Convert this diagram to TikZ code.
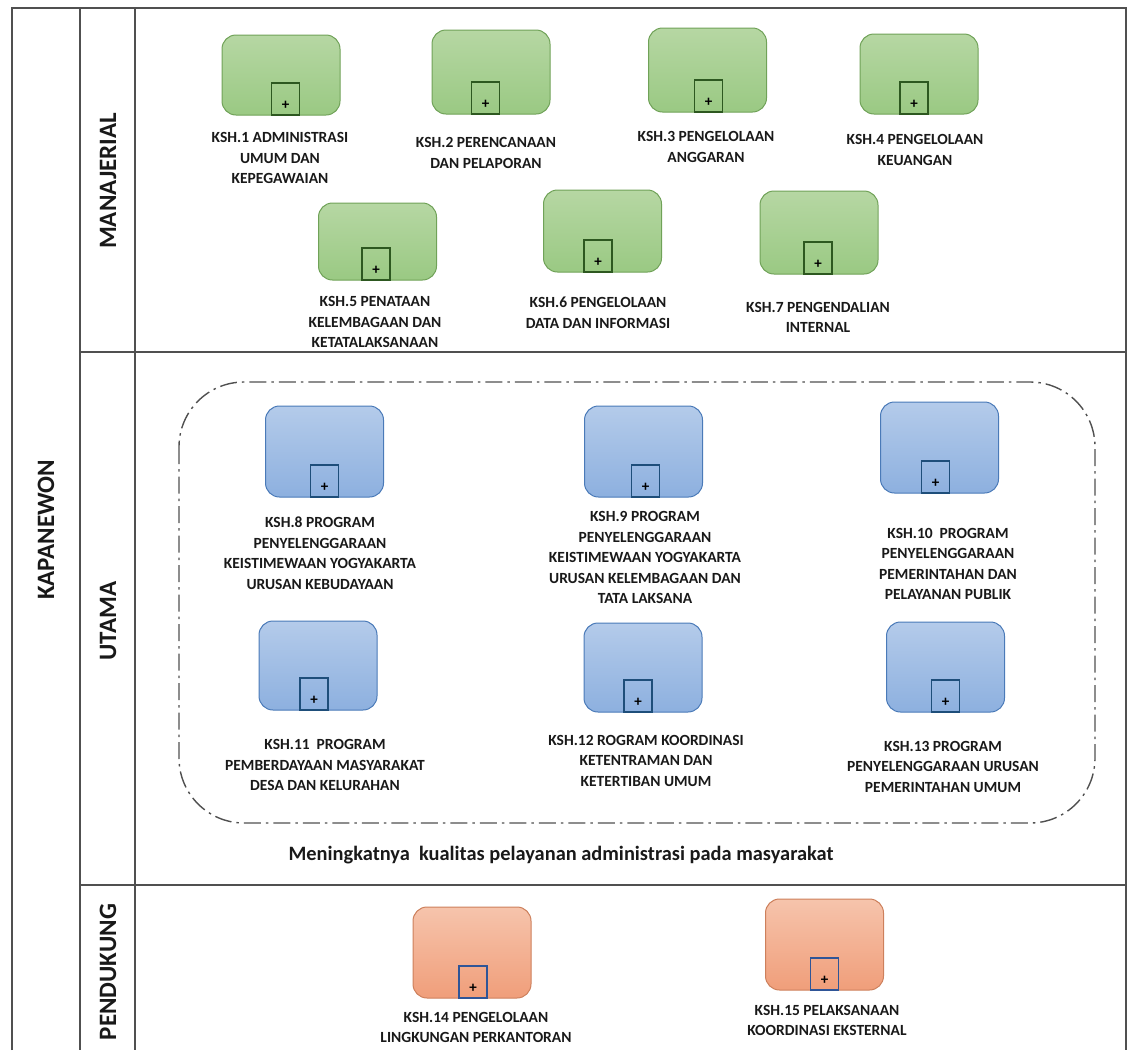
\documentclass[tikz,border=0pt]{standalone}
\usepackage{fontspec}
\setmainfont{Carlito}
\definecolor{garis}{RGB}{80,80,80}
\definecolor{hijauA}{RGB}{182,215,163}
\definecolor{hijauB}{RGB}{154,201,131}
\definecolor{hijauC}{RGB}{112,162,88}
\definecolor{hijauD}{RGB}{45,88,32}
\definecolor{biruA}{RGB}{180,203,234}
\definecolor{biruB}{RGB}{141,176,223}
\definecolor{biruC}{RGB}{74,122,184}
\definecolor{biruD}{RGB}{30,78,122}
\definecolor{oranyeA}{RGB}{246,196,172}
\definecolor{oranyeB}{RGB}{240,158,122}
\definecolor{oranyeC}{RGB}{205,128,92}
\definecolor{oranyeD}{RGB}{47,85,151}
\definecolor{teks}{RGB}{25,25,25}
\begin{document}
\begin{tikzpicture}[x=1pt,y=-1pt,
	lajur/.style={draw=garis,line width=1.4pt},
	kotak/.style={rounded corners=14pt,minimum width=118pt,inner sep=0pt,line width=1pt},
	hijau/.style={kotak,draw=hijauC,top color=hijauA,bottom color=hijauB},
	biru/.style={kotak,draw=biruC,top color=biruA,bottom color=biruB},
	oranye/.style={kotak,draw=oranyeC,top color=oranyeA,bottom color=oranyeB},
	kecil/.style={draw,line width=1.7pt,fill=none,minimum width=28pt,minimum height=32pt,inner sep=0pt,anchor=south},
	tambah/.style={inner sep=0pt,text=black,font=\bfseries\fontsize{15}{15}\selectfont},
	ket/.style={align=center,text=teks,font=\bfseries\fontsize{15.5}{20.5}\selectfont},
	judul/.style={rotate=90,text=teks,font=\bfseries\fontsize{25}{25}\selectfont}]
	\useasboundingbox (0,0) rectangle (1130,1050);
	% frame and lanes
	\path (12,8) coordinate (TL)
	(1126,8) coordinate (TR)
	(12,1050) coordinate (BL)
	(80,1050) coordinate (B1)
	(135,1050) coordinate (B2)
	(1126,1050) coordinate (BR)
	(80,352) coordinate (M1)
	(1126,352) coordinate (M2)
	(80,885) coordinate (U1)
	(1126,885) coordinate (U2);
	\draw[lajur] (BL)--(TL)--(TR)--(BR);
	\draw[lajur] (TL-|B1)--(B1);
	\draw[lajur] (TL-|B2)--(B2);
	\draw[lajur] (M1)--(M2);
	\draw[lajur] (U1)--(U2);
	\node[judul] (kapanewon) at (46,530) {KAPANEWON};
	\node[judul] (manajerial) at (108,181) {MANAJERIAL};
	\node[judul] (utama) at (108,621) {UTAMA};
	\node[judul] (pendukung) at (108,972) {PENDUKUNG};
	% dash-dot group
	\draw[garis,line width=1.4pt,rounded corners=65pt,dash pattern=on 17pt off 5pt on 2.5pt off 5pt]
	(179,382) rectangle (1095,823);
	\node[text=teks,font=\bfseries\fontsize{20.4}{20.4}\selectfont] (hasil) at (561,855)
	{Meningkatnya\ \ kualitas pelayanan administrasi pada masyarakat};
	% boxes: name/x/y/height/square shift/style/label x/label y/label
	\foreach \n/\x/\y/\h/\d/\c/\tx/\ty/\t in {
	1/281/75/80/4.5/hijau/280/158/{KSH.1 ADMINISTRASI\\UMUM DAN\\KEPEGAWAIAN},
	2/491/72/84/-5.5/hijau/486/153/{KSH.2 PERENCANAAN\\DAN PELAPORAN},
	3/707.5/70/84/1/hijau/706/147/{KSH.3 PENGELOLAAN\\ANGGARAN},
	4/919/74/80/-5/hijau/915/150/{KSH.4 PENGELOLAAN\\KEUANGAN},
	5/377.5/241.5/77/-1.5/hijau/375/322/{KSH.5 PENATAAN\\KELEMBAGAAN DAN\\KETATALAKSANAAN},
	6/602.5/231/82/-4.5/hijau/598/313/{KSH.6 PENGELOLAAN\\DATA DAN INFORMASI},
	7/819/232.5/83/-1/hijau/818/317.5/{KSH.7 PENGENDALIAN\\INTERNAL},
	8/324.5/451.5/91/0/biru/320/553/{KSH.8 PROGRAM\\PENYELENGGARAAN\\KEISTIMEWAAN YOGYAKARTA\\URUSAN KEBUDAYAAN},
	9/643.5/451.5/91/2/biru/645/557.5/{KSH.9 PROGRAM\\PENYELENGGARAAN\\KEISTIMEWAAN YOGYAKARTA\\URUSAN KELEMBAGAAN DAN\\TATA LAKSANA},
	10/939.5/447.5/91/-4/biru/948/564/{KSH.10 \ PROGRAM\\PENYELENGGARAAN\\PEMERINTAHAN DAN\\PELAYANAN PUBLIK},
	11/318/665.5/89/-4/biru/325/765/{KSH.11 \ PROGRAM\\PEMBERDAYAAN MASYARAKAT\\DESA DAN KELURAHAN},
	12/643/667.5/89/-5/biru/646/760.5/{KSH.12 ROGRAM KOORDINASI\\KETENTRAMAN DAN\\KETERTIBAN UMUM},
	13/945.5/667/90/0/biru/943/766.5/{KSH.13 PROGRAM\\PENYELENGGARAAN URUSAN\\PEMERINTAHAN UMUM},
	14/472/952.5/91/1/oranye/476/1027.5/{KSH.14 PENGELOLAAN\\LINGKUNGAN PERKANTORAN},
	15/824.5/944.5/91/0/oranye/827/1020.5/{KSH.15 PELAKSANAAN\\KOORDINASI EKSTERNAL}}{
	\node[\c,minimum height=\h pt] (k\n) at (\x,\y) {};
	\node[kecil,draw=\c D] (s\n) at ([xshift=\d pt]k\n.south) {};
	\node[tambah] (p\n) at ([yshift=10pt]s\n.south) {+};
	\node[ket] (t\n) at (\tx,\ty) {\t};
	}
\end{tikzpicture}
\end{document}
